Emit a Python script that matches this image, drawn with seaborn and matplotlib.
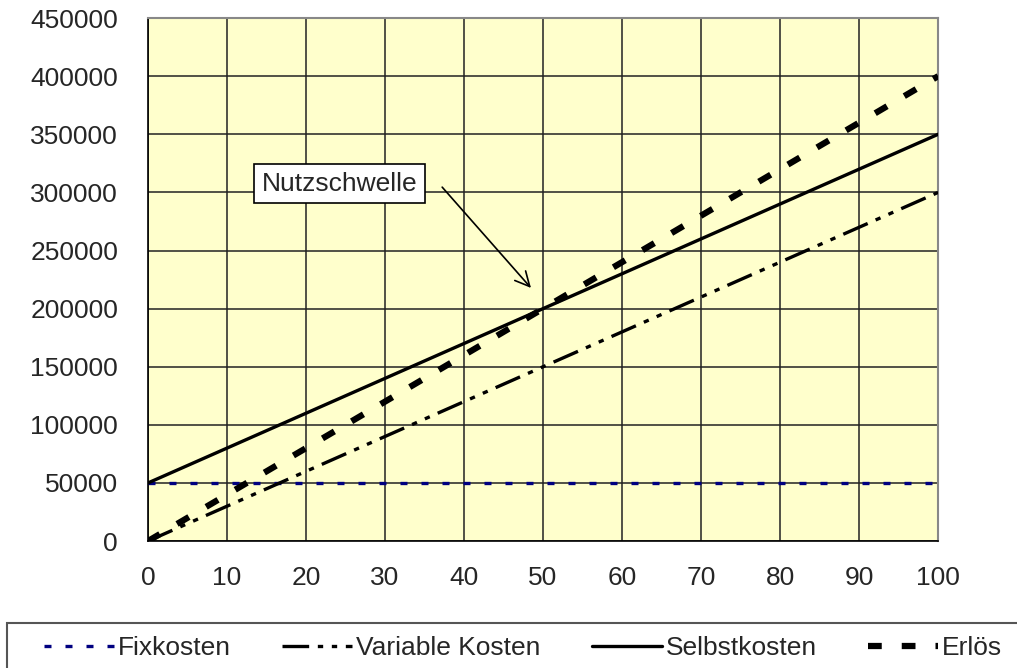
import matplotlib
matplotlib.use("Agg")
from matplotlib import pyplot as plt
from matplotlib.patches import Rectangle
import seaborn as sns

# data
menge = [0, 10, 20, 30, 40, 50, 60, 70, 80, 90, 100]
fixkosten = [50000] * 11
variable_kosten = [0, 30000, 60000, 90000, 120000, 150000, 180000, 210000, 240000, 270000, 300000]
selbstkosten = [50000, 80000, 110000, 140000, 170000, 200000, 230000, 260000, 290000, 320000, 350000]
erloes = [0, 40000, 80000, 120000, 160000, 200000, 240000, 280000, 320000, 360000, 400000]
y_ticks = [0, 50000, 100000, 150000, 200000, 250000, 300000, 350000, 400000, 450000]
x_ticks = [0, 10, 20, 30, 40, 50, 60, 70, 80, 90, 100]

sns.set_style("white")
plt.rcParams['font.family'] = ['Liberation Sans', 'DejaVu Sans']
plt.rcParams['font.size'] = 19

fig = plt.figure(figsize=(10.17, 6.68), dpi=100)
ax = fig.add_axes([0.1455, 0.19, 0.777, 0.783])
ax.set_facecolor('#FFFFCC')

sns.lineplot(x=menge, y=fixkosten, ax=ax, color='#000080', lw=2.4,
             linestyle=(0, (2.1, 4.2)), label='Fixkosten', zorder=3)
sns.lineplot(x=menge, y=variable_kosten, ax=ax, color='black', lw=2.4,
             linestyle=(0, (8, 2.6, 1.6, 2.6, 1.6, 2.6)), label='Variable Kosten', zorder=3)
sns.lineplot(x=menge, y=selbstkosten, ax=ax, color='black', lw=2.4,
             linestyle='-', label='Selbstkosten', zorder=3)
sns.lineplot(x=menge, y=erloes, ax=ax, color='black', lw=4.5,
             linestyle=(0, (2.2, 3.2)), label='Erlös', zorder=3)

ax.set_xlim(0, 100)
ax.set_ylim(0, 450000)
ax.set_xticks(x_ticks)
ax.set_yticks(y_ticks)
ax.set_xticklabels([str(v) for v in x_ticks])
ax.set_yticklabels([str(v) for v in y_ticks])
ax.grid(True, color='#222222', lw=1.1, zorder=1)
ax.set_axisbelow(True)
ax.tick_params(axis='y', direction='out', length=6.5, width=1, color='black', labelsize=19, pad=15)
ax.tick_params(axis='x', direction='out', length=5, width=1, color='black', labelsize=19, pad=13)
for side in ['left', 'bottom']:
    ax.spines[side].set_color('black')
    ax.spines[side].set_linewidth(1.2)
for side in ['right', 'top']:
    ax.spines[side].set_color('#888888')
    ax.spines[side].set_linewidth(1.5)

# Nutzschwelle label with arrow
ax.text(14.4, 307600, 'Nutzschwelle', ha='left', va='center', fontsize=19,
        bbox=dict(boxstyle='square,pad=0.3', fc='white', ec='black', lw=1.2), zorder=5)
ax.annotate('', xy=(48.7, 216000), xytext=(37.0, 306300),
            arrowprops=dict(arrowstyle='->', color='black', lw=1.2, mutation_scale=26), zorder=5)

handles, labels = ax.get_legend_handles_labels()
if ax.get_legend() is not None:
    ax.get_legend().remove()
leg = fig.legend(handles, labels, loc='center', ncol=4, bbox_to_anchor=(523 / 1017, 20 / 668),
                 frameon=False, handlelength=2.65, handletextpad=0.15, columnspacing=1.95,
                 fontsize=19, borderpad=0)

# legend border box running off the right and bottom edge
fig.patches.append(Rectangle((7 / 1017, -0.05), 1.1, 45 / 668 + 0.05, transform=fig.transFigure,
                             fill=False, ec='#555555', lw=1.5))

fig.savefig('out.png', dpi=100)
